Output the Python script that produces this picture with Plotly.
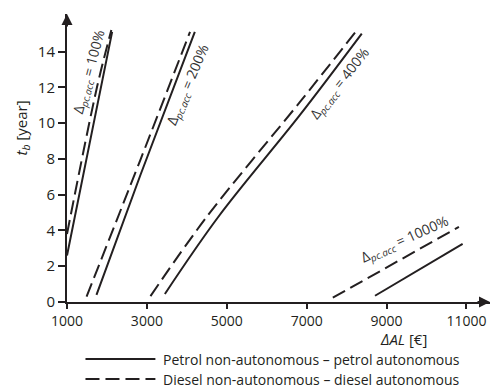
import plotly.graph_objects as go

# ---- data ----
petrol_100_x = [1000, 1560, 2130]
petrol_100_y = [2.6, 8.8, 15.1]
diesel_100_x = [1000, 1750, 2110]
diesel_100_y = [3.8, 12.0, 15.2]

petrol_200_x = [1738, 2838, 4200]
petrol_200_y = [0.4, 7.1, 15.1]
diesel_200_x = [1490, 2838, 4080]
diesel_200_y = [0.3, 7.95, 15.1]

petrol_400_x = [3450, 4795, 6838, 8380]
petrol_400_y = [0.45, 4.78, 10.47, 15.0]
diesel_400_x = [3090, 4505, 6838, 8210]
diesel_400_y = [0.33, 4.78, 11.2, 15.06]

petrol_1000_x = [8712, 10905]
petrol_1000_y = [0.35, 3.25]
diesel_1000_x = [7655, 10812]
diesel_1000_y = [0.24, 4.2]

x_ticks = [1000, 3000, 5000, 7000, 9000, 11000]
y_ticks = [0, 2, 4, 6, 8, 10, 12, 14]

labels = ["100%", "200%", "400%", "1000%"]
label_x = [1562, 4037, 7837, 9462]
label_y = [12.88, 12.15, 12.2, 3.47]
label_angle = [-75, -67, -52, -24]

legend_names = ["Petrol non-autonomous \u2013 petrol autonomous",
                "Diesel non-autonomous \u2013 diesel autonomous"]

INK = "#231f20"
FONT = "Open Sans"
DASH = "14px,6px"

fig = go.Figure()
solid_sets = [(petrol_100_x, petrol_100_y), (petrol_200_x, petrol_200_y),
              (petrol_400_x, petrol_400_y), (petrol_1000_x, petrol_1000_y)]
dash_sets = [(diesel_100_x, diesel_100_y), (diesel_200_x, diesel_200_y),
             (diesel_400_x, diesel_400_y), (diesel_1000_x, diesel_1000_y)]
for xs, ys in solid_sets:
    fig.add_trace(go.Scatter(x=xs, y=ys, mode="lines", showlegend=False,
                             line=dict(color=INK, width=2), line_shape="spline"))
for xs, ys in dash_sets:
    fig.add_trace(go.Scatter(x=xs, y=ys, mode="lines", showlegend=False,
                             line=dict(color=INK, width=2, dash=DASH), line_shape="spline"))

for t, lx, ly, ang in zip(labels, label_x, label_y, label_angle):
    fig.add_annotation(x=lx, y=ly, xref="x", yref="y", showarrow=False,
                       xanchor="center", yanchor="middle",
                       text="\u0394<sub><i>pc.acc</i></sub> = " + t, textangle=ang,
                       font=dict(family=FONT, size=14, color="#333333"))

XMAX = 11590
YMAX = 16.1
# axis arrowheads
fig.add_annotation(x=XMAX, y=0, xref="x", yref="y", ax=-14, ay=0, text="",
                   showarrow=True, arrowhead=2, arrowsize=1.1, arrowwidth=2, arrowcolor=INK)
fig.add_annotation(x=1000, y=YMAX, xref="x", yref="y", ax=0, ay=14, text="",
                   showarrow=True, arrowhead=2, arrowsize=1.1, arrowwidth=2, arrowcolor=INK)

# axis titles
fig.add_annotation(x=(403 - 66.5) / 423.5, y=-(339 - 302) / 288, xref="paper", yref="paper",
                   showarrow=False, xanchor="center", yanchor="middle",
                   text="<i>\u0394AL</i> [\u20ac]",
                   font=dict(family=FONT, size=15, color=INK))
fig.add_annotation(x=-(66.5 - 21) / 423.5, y=(302 - 128) / 288, xref="paper", yref="paper",
                   showarrow=False, xanchor="center", yanchor="middle",
                   text="<i>t<sub>b</sub></i> [year]", textangle=-90,
                   font=dict(family=FONT, size=15, color=INK))

# legend (manual)
leg_y = [-(359 - 302) / 288, -(379 - 302) / 288]
dashes = ["solid", "dash"]
for name, yy, d in zip(legend_names, leg_y, dashes):
    fig.add_shape(type="line", xref="paper", yref="paper",
                  x0=(85 - 66.5) / 423.5, x1=(155 - 66.5) / 423.5, y0=yy, y1=yy,
                  line=dict(color=INK, width=2, dash=("solid" if d == "solid" else DASH)))
    fig.add_annotation(x=(161 - 66.5) / 423.5, y=yy, xref="paper", yref="paper",
                       showarrow=False, xanchor="left", yanchor="middle", text=name,
                       font=dict(family=FONT, size=14, color=INK))

fig.update_layout(
    width=494, height=388,
    margin=dict(l=66.5, r=4, t=14, b=86),
    plot_bgcolor="white", paper_bgcolor="white",
    font=dict(family=FONT, size=14, color=INK),
    showlegend=False,
)
fig.update_xaxes(range=[1000, XMAX], tickvals=x_ticks, ticktext=[str(v) for v in x_ticks],
                 showgrid=False, zeroline=False, showline=True, linecolor=INK, linewidth=2,
                 ticks="outside", ticklen=5, tickwidth=1.5, tickcolor=INK,
                 tickfont=dict(family=FONT, size=14, color=INK))
fig.update_yaxes(range=[0, YMAX], tickvals=y_ticks, ticktext=[str(v) for v in y_ticks],
                 showgrid=False, zeroline=False, showline=True, linecolor=INK, linewidth=2,
                 ticks="outside", ticklen=7, tickwidth=1.5, tickcolor=INK,
                 tickfont=dict(family=FONT, size=15, color=INK))

fig.write_html("out.html")
